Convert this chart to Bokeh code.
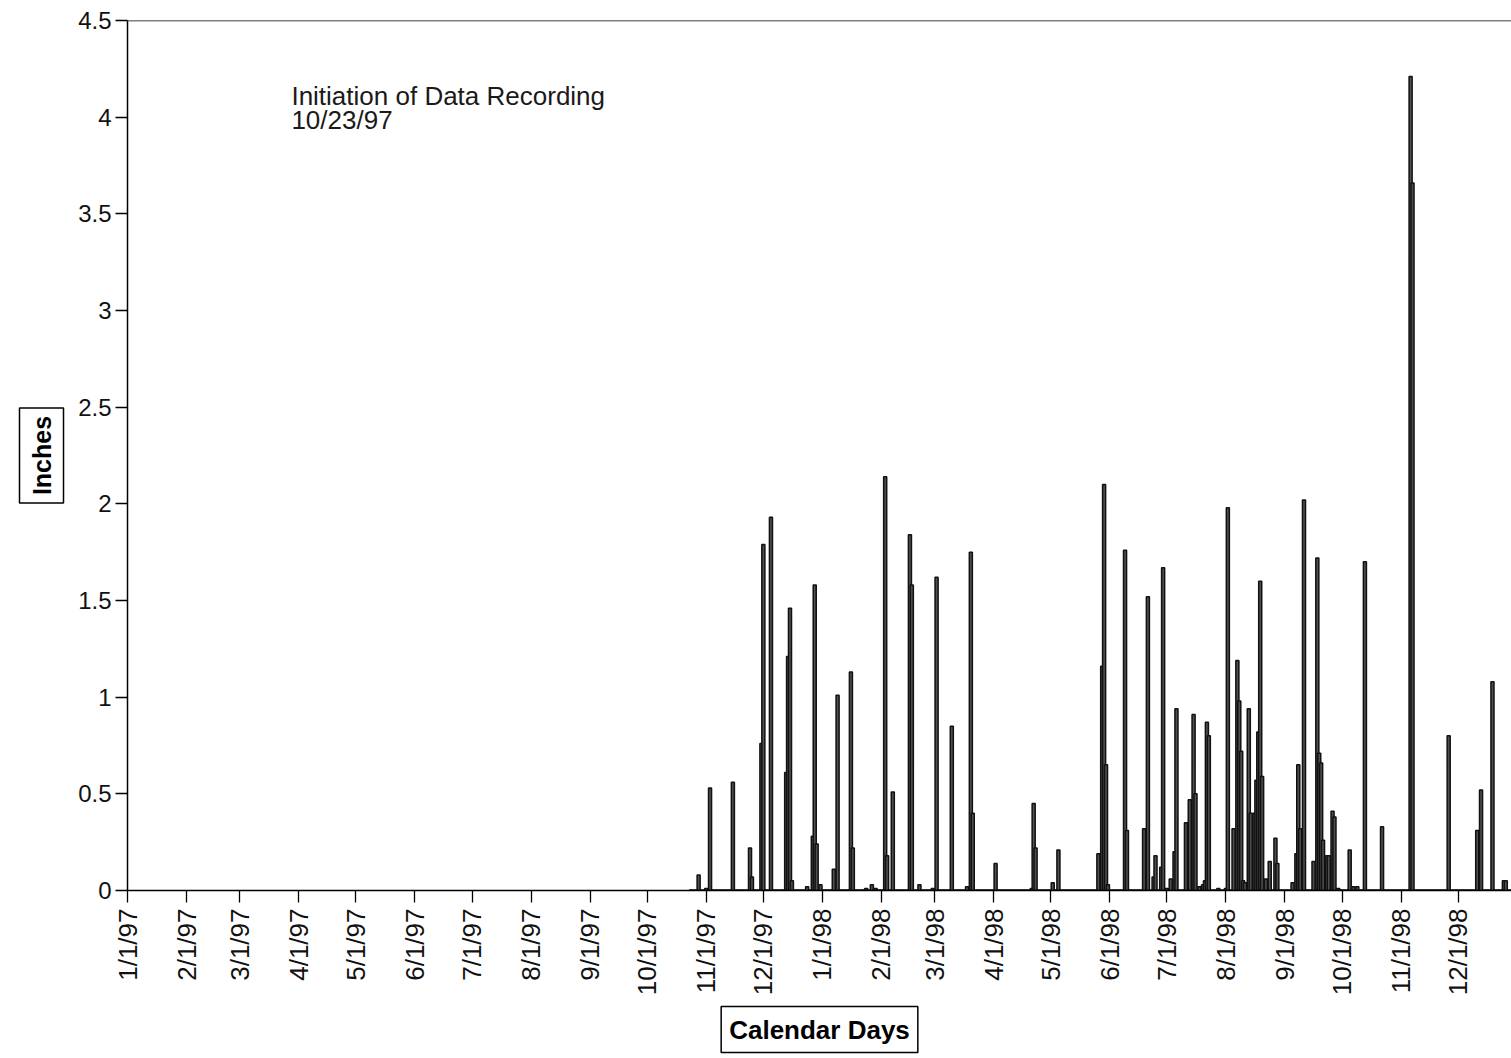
import math
import pandas as pd
from bokeh.plotting import figure
from bokeh.models import Range1d, FixedTicker, Label, Span, NumeralTickFormatter, Title
from bokeh.embed import file_html
from bokeh.resources import INLINE

# Daily rainfall (inches) at the gauge, from start of recording
rain_dates = [
    "1997-10-28", "1997-11-01", "1997-11-03", "1997-11-15", "1997-11-24", "1997-11-25",
    "1997-11-30", "1997-12-01", "1997-12-05", "1997-12-13", "1997-12-14", "1997-12-15",
    "1997-12-16", "1997-12-24", "1997-12-27", "1997-12-28", "1997-12-29", "1997-12-31",
    "1998-01-07", "1998-01-09", "1998-01-16", "1998-01-17", "1998-01-24", "1998-01-27",
    "1998-01-29", "1998-02-03", "1998-02-04", "1998-02-07", "1998-02-16", "1998-02-17",
    "1998-02-21", "1998-02-28", "1998-03-02", "1998-03-10", "1998-03-18", "1998-03-20",
    "1998-03-21", "1998-04-02", "1998-04-21", "1998-04-22", "1998-04-23", "1998-05-02",
    "1998-05-05", "1998-05-26", "1998-05-28", "1998-05-29", "1998-05-30", "1998-05-31",
    "1998-06-09", "1998-06-10", "1998-06-19", "1998-06-21", "1998-06-24", "1998-06-25",
    "1998-06-28", "1998-06-29", "1998-07-01", "1998-07-03", "1998-07-05", "1998-07-06",
    "1998-07-11", "1998-07-13", "1998-07-15", "1998-07-16", "1998-07-18", "1998-07-20",
    "1998-07-21", "1998-07-22", "1998-07-23", "1998-07-28", "1998-08-01", "1998-08-02",
    "1998-08-05", "1998-08-07", "1998-08-08", "1998-08-09", "1998-08-10", "1998-08-11",
    "1998-08-13", "1998-08-14", "1998-08-16", "1998-08-17", "1998-08-18", "1998-08-19",
    "1998-08-20", "1998-08-22", "1998-08-24", "1998-08-27", "1998-08-28", "1998-09-05",
    "1998-09-07", "1998-09-08", "1998-09-09", "1998-09-11", "1998-09-16", "1998-09-18",
    "1998-09-19", "1998-09-20", "1998-09-21", "1998-09-23", "1998-09-24", "1998-09-26",
    "1998-09-27", "1998-09-29", "1998-10-05", "1998-10-07", "1998-10-09", "1998-10-13",
    "1998-10-22", "1998-11-06", "1998-11-07", "1998-11-26", "1998-12-11", "1998-12-13",
    "1998-12-19", "1998-12-25", "1998-12-26",
]
rain_inches = [
    0.08, 0.01, 0.53, 0.56, 0.22, 0.07,
    0.76, 1.79, 1.93, 0.61, 1.21, 1.46,
    0.05, 0.02, 0.28, 1.58, 0.24, 0.03,
    0.11, 1.01, 1.13, 0.22, 0.01, 0.03,
    0.01, 2.14, 0.18, 0.51, 1.84, 1.58,
    0.03, 0.01, 1.62, 0.85, 0.02, 1.75,
    0.40, 0.14, 0.01, 0.45, 0.22, 0.04,
    0.21, 0.19, 1.16, 2.10, 0.65, 0.03,
    1.76, 0.31, 0.32, 1.52, 0.07, 0.18,
    0.12, 1.67, 0.01, 0.06, 0.20, 0.94,
    0.35, 0.47, 0.91, 0.50, 0.02, 0.03,
    0.05, 0.87, 0.80, 0.01, 0.01, 1.98,
    0.32, 1.19, 0.98, 0.72, 0.05, 0.04,
    0.94, 0.40, 0.40, 0.57, 0.82, 1.60,
    0.59, 0.06, 0.15, 0.27, 0.14, 0.04,
    0.19, 0.65, 0.32, 2.02, 0.15, 1.72,
    0.71, 0.66, 0.26, 0.18, 0.18, 0.41,
    0.38, 0.01, 0.21, 0.02, 0.02, 1.70,
    0.33, 4.21, 3.66, 0.80, 0.31, 0.52,
    1.08, 0.05, 0.05,
]

record_start = "1997-10-23"
record_end = "1998-12-31"
axis_origin = "1997-01-01"

month_ticks = [
    "1997-01-01", "1997-02-01", "1997-03-01", "1997-04-01", "1997-05-01", "1997-06-01",
    "1997-07-01", "1997-08-01", "1997-09-01", "1997-10-01", "1997-11-01", "1997-12-01",
    "1998-01-01", "1998-02-01", "1998-03-01", "1998-04-01", "1998-05-01", "1998-06-01",
    "1998-07-01", "1998-08-01", "1998-09-01", "1998-10-01", "1998-11-01", "1998-12-01",
]
month_tick_labels = [
    "1/1/97", "2/1/97", "3/1/97", "4/1/97", "5/1/97", "6/1/97",
    "7/1/97", "8/1/97", "9/1/97", "10/1/97", "11/1/97", "12/1/97",
    "1/1/98", "2/1/98", "3/1/98", "4/1/98", "5/1/98", "6/1/98",
    "7/1/98", "8/1/98", "9/1/98", "10/1/98", "11/1/98", "12/1/98",
]
y_ticks = [0, 0.5, 1, 1.5, 2, 2.5, 3, 3.5, 4, 4.5]

origin = pd.Timestamp(axis_origin)


def day_number(s):
    return (pd.Timestamp(s) - origin).days


rain_days = [day_number(d) for d in rain_dates]
tick_days = [day_number(d) for d in month_ticks]

FONT = "Liberation Sans"

p = figure(
    width=1511, height=1058,
    output_backend="svg", toolbar_location=None,
    x_range=Range1d(0, 727), y_range=Range1d(0, 4.5),
    min_border_left=127, min_border_right=0,
    min_border_top=20, min_border_bottom=168,
    background_fill_color="white", border_fill_color="white",
)
p.outline_line_color = None
p.xgrid.visible = False
p.ygrid.visible = False

# zero line over the recording period
p.line([day_number(record_start), day_number(record_end)], [0, 0],
       line_color="black", line_width=2.5)

p.vbar(x=rain_days, top=rain_inches, width=1.6,
       fill_color="#505050", line_color="#111111", line_width=1.5)

# top frame line
p.add_layout(Span(location=4.5, dimension="width", line_color="black", line_width=1.5))

# y axis
yax = p.yaxis[0]
yax.ticker = FixedTicker(ticks=y_ticks)
yax.formatter = NumeralTickFormatter(format="0.[0]")
yax.minor_tick_line_color = None
yax.major_tick_in = 0
yax.major_tick_out = 12
yax.major_tick_line_width = 1.3
yax.axis_line_width = 1.5
yax.major_label_text_font = FONT
yax.major_label_text_font_size = "24px"
yax.major_label_text_color = "#111111"
yax.major_label_standoff = 4

# x axis
xax = p.xaxis[0]
xax.ticker = FixedTicker(ticks=tick_days)
xax.major_label_overrides = {d: lab for d, lab in zip(tick_days, month_tick_labels)}
xax.minor_tick_line_color = None
xax.major_tick_in = 0
xax.major_tick_out = 12
xax.major_tick_line_width = 1.3
xax.axis_line_width = 1.5
xax.major_label_orientation = math.pi / 2
xax.major_label_text_font = FONT
xax.major_label_text_font_size = "26px"
xax.major_label_text_color = "#111111"
xax.major_label_standoff = 6

# recording note (placed in data space: days since 1/1/97, inches)
note_style = dict(text_font=FONT, text_font_size="26px", text_color="#1a1a1a",
                  text_baseline="top", text_align="left")
p.add_layout(Label(x=86.1, y=4.185, text="Initiation of Data Recording", **note_style))
p.add_layout(Label(x=86.1, y=4.064, text="10/23/97", **note_style))

# boxed axis titles
box_style = dict(text_font=FONT, text_font_style="bold", text_color="black",
                 align="center", background_fill_color="white",
                 border_line_color="black", border_line_width=1.5, padding=8)
p.add_layout(Title(text="Inches", text_font_size="25px", standoff=20,
                   vertical_align="top", **box_style), "left")
p.add_layout(Title(text="Calendar Days", text_font_size="26px", standoff=12,
                   **box_style), "below")

open("out.html", "w").write(file_html(p, INLINE))
